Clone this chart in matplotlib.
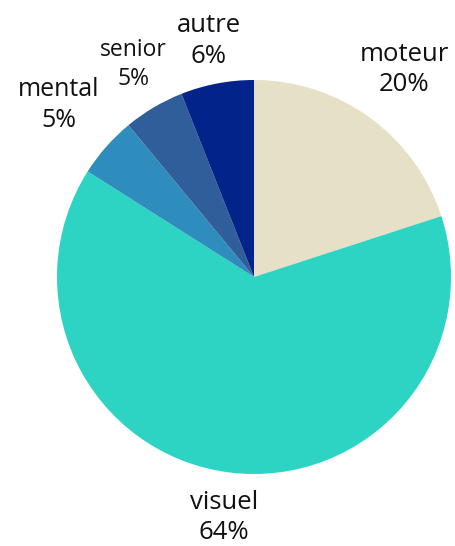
import numpy as np
import matplotlib
matplotlib.use("Agg")
import matplotlib.pyplot as plt

categories = ["moteur", "visuel", "mental", "senior", "autre"]
values = [20, 64, 5, 5, 6]
colors = ["#E6E0C7", "#2DD4C4", "#2E8DBC", "#2F5E9A", "#02238A"]

# label placement tweaks (radius multiple, angle offset in degrees, font size)
label_r = [1.30, 1.23, 1.32, 1.24, 1.22]
label_dang = [0, 0, 0, -1, 0]
label_fs = [18.5, 18.5, 18, 16.5, 18.5]

W, H, dpi = 455, 546, 100
fig = plt.figure(figsize=(W / dpi, H / dpi), dpi=dpi)
ax = fig.add_axes([0, 0, 1, 1])
cx, cy, R = 254, 277, 197

wedges, _ = ax.pie(values, colors=colors, startangle=90, counterclock=False,
                   radius=1, center=(0, 0), frame=True,
                   wedgeprops=dict(linewidth=0))
ax.set_aspect("equal")
ax.set_xlim(-cx / R, (W - cx) / R)
ax.set_ylim(-(H - cy) / R, cy / R)
ax.axis("off")

total = sum(values)
for w, cat, v, r, da, fs in zip(wedges, categories, values, label_r, label_dang, label_fs):
    mid = np.deg2rad((w.theta1 + w.theta2) / 2 + da)
    ax.text(r * np.cos(mid), r * np.sin(mid), f"{cat}\n{round(100 * v / total)}%",
            ha="center", va="center", fontsize=fs, family="Open Sans",
            color="#111111", linespacing=1.28)

fig.savefig("out.png", dpi=dpi)
